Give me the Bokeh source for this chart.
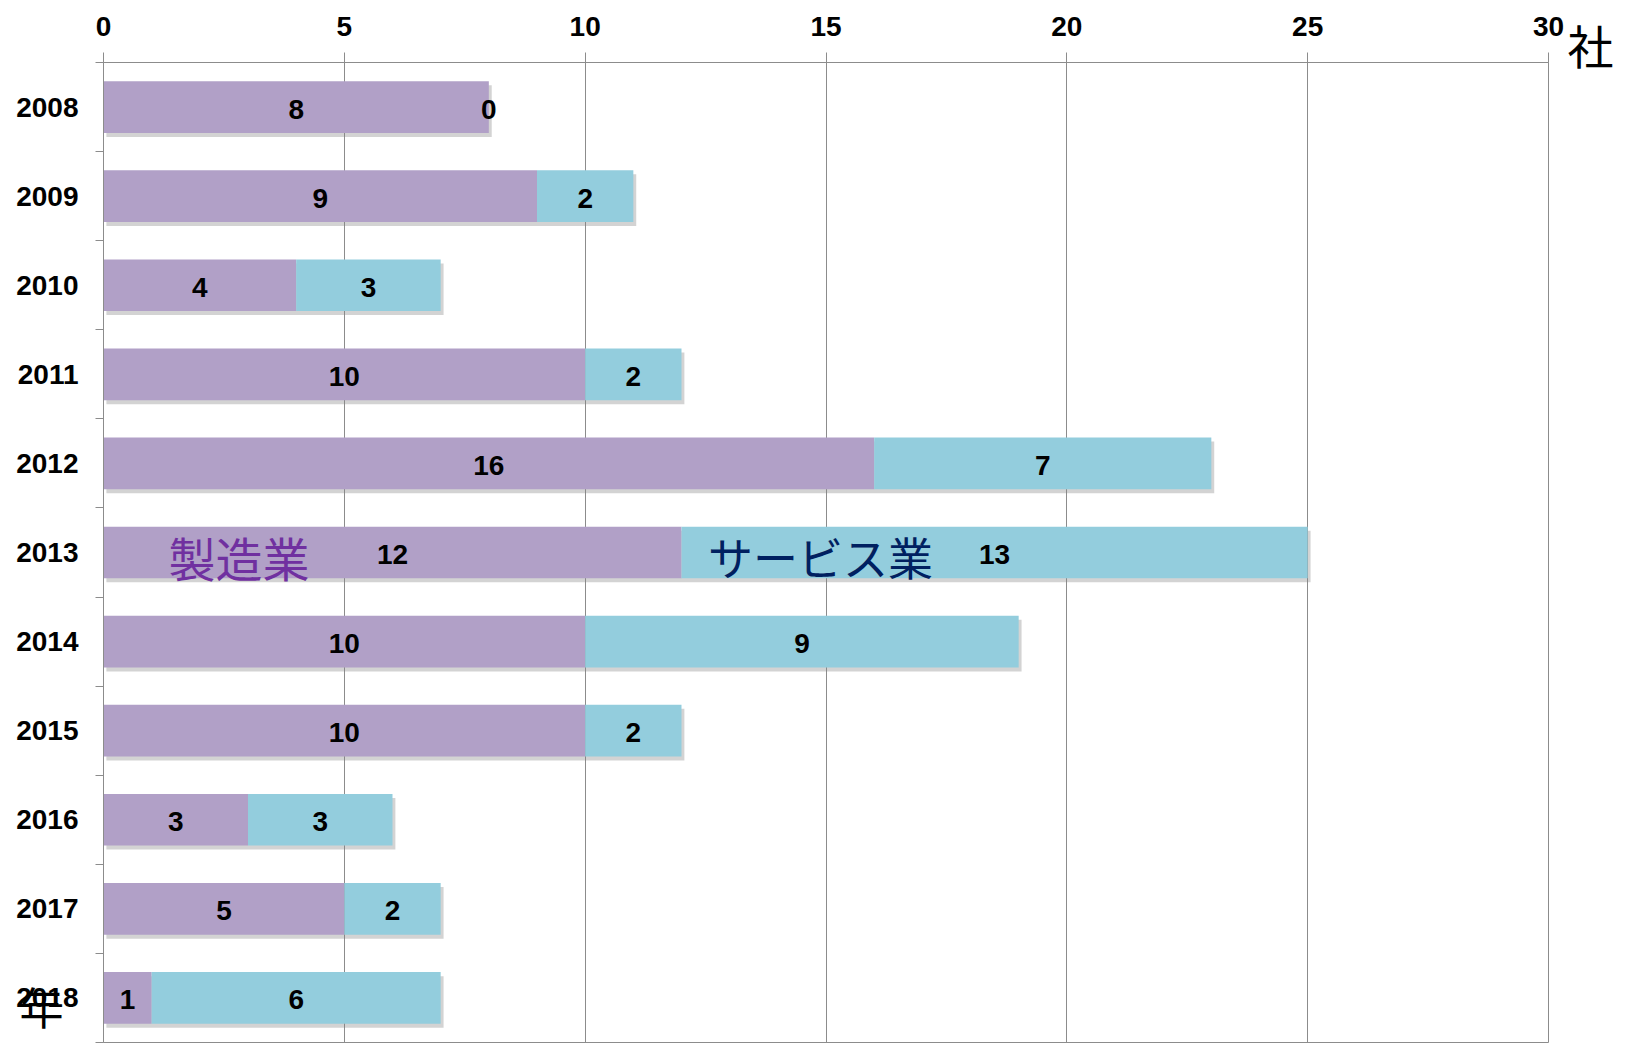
from bokeh.plotting import figure
from bokeh.models import ColumnDataSource, Range1d, FixedTicker, Label, LinearAxis
from bokeh.transform import dodge
from bokeh.core.properties import value
from bokeh.embed import file_html
from bokeh.resources import INLINE

years = ["2008", "2009", "2010", "2011", "2012", "2013", "2014", "2015", "2016", "2017", "2018"]
manufacturing = [8, 9, 4, 10, 16, 12, 10, 10, 3, 5, 1]
service = [0, 2, 3, 2, 7, 13, 9, 2, 3, 2, 6]
x_ticks = [0, 5, 10, 15, 20, 25, 30]
series_names = ["製造業", "サービス業"]
x_unit = "社"
y_unit = "年"

PURPLE = "#B1A0C7"
BLUE = "#93CDDD"
GRAY = "#8C8C8C"
FONT_NAME = "Liberation Sans"
CJK_NAME = "Noto Sans CJK JP"
FONT = value(FONT_NAME)

idx = list(range(len(years)))
total = [m + s for m, s in zip(manufacturing, service)]
src = ColumnDataSource(dict(
    y=idx,
    m=manufacturing,
    s=service,
    total=total,
    m_mid=[m / 2 for m in manufacturing],
    s_mid=[m + s / 2 for m, s in zip(manufacturing, service)],
    m_txt=[str(m) for m in manufacturing],
    s_txt=[str(s) for s in service],
))

W, H = 1620, 1050
p = figure(width=W, height=H, output_backend="svg", toolbar_location=None,
           x_range=Range1d(0, 30), y_range=Range1d(len(years) - 0.5, -0.5),
           x_axis_location="above",
           min_border_left=103, min_border_right=72, min_border_top=62, min_border_bottom=8,
           outline_line_color=GRAY, outline_line_width=1)

# grid
p.ygrid.visible = False
p.xgrid.ticker = FixedTicker(ticks=x_ticks)
p.xgrid.grid_line_color = GRAY
p.xgrid.grid_line_width = 1

# top axis
p.xaxis.ticker = FixedTicker(ticks=x_ticks)
p.xaxis.axis_line_color = GRAY
p.xaxis.major_tick_line_color = GRAY
p.xaxis.major_tick_out = 10
p.xaxis.major_tick_in = 0
p.xaxis.minor_tick_line_color = None
p.xaxis.minor_tick_out = 0
p.xaxis.major_label_standoff = 17
p.xaxis.major_label_text_font = FONT_NAME
p.xaxis.major_label_text_font_size = "28px"
p.xaxis.major_label_text_font_style = "bold"
p.xaxis.major_label_text_color = "black"

# left axis
p.yaxis.ticker = FixedTicker(ticks=idx, minor_ticks=[i - 0.5 for i in range(len(years) + 1)])
p.yaxis.major_label_overrides = {i: yr for i, yr in enumerate(years)}
p.yaxis.axis_line_color = GRAY
p.yaxis.major_tick_line_color = None
p.yaxis.major_tick_out = 0
p.yaxis.major_tick_in = 0
p.yaxis.minor_tick_line_color = GRAY
p.yaxis.minor_tick_out = 8
p.yaxis.minor_tick_in = 0
p.yaxis.major_label_standoff = 17
p.yaxis.major_label_text_font = FONT_NAME
p.yaxis.major_label_text_font_size = "28px"
p.yaxis.major_label_text_font_style = "bold"
p.yaxis.major_label_text_color = "black"


def unit_axis(pos, text, standoff, font, size):
    return LinearAxis(ticker=FixedTicker(ticks=[pos]),
                      major_label_overrides={pos: text},
                      axis_line_color=None, major_tick_line_color=None,
                      minor_tick_line_color=None,
                      major_tick_out=0, major_tick_in=0, minor_tick_out=0, minor_tick_in=0,
                      major_label_standoff=standoff,
                      major_label_orientation="horizontal",
                      major_label_text_font=font, major_label_text_font_size=size,
                      major_label_text_color="black")


# "年" unit label: tick label of an extra invisible left axis, at the bottom edge
p.add_layout(unit_axis(len(years) - 0.501, y_unit, -50,
                       FONT_NAME + ", " + CJK_NAME, "44px"), "left")
# "社" unit label: tick label of an extra invisible right axis, at the top edge
p.add_layout(unit_axis(-0.499, x_unit + "\n", 19, CJK_NAME, "46px"), "right")

# shadow
p.hbar(y=dodge("y", 0.045), left=0.06, right=dodge("total", 0.06), height=0.58,
       fill_color="#808080", fill_alpha=0.35, line_color=None, source=src)
# bars
p.hbar(y="y", left=0, right="m", height=0.58, fill_color=PURPLE, line_color=None, source=src)
p.hbar(y="y", left="m", right="total", height=0.58, fill_color=BLUE, line_color=None, source=src)

# value labels
p.text(x="m_mid", y="y", text="m_txt", text_align="center", text_baseline="middle",
       y_offset=2, text_font=FONT, text_font_size="28px", text_font_style="bold",
       text_color="black", source=src)
p.text(x="s_mid", y="y", text="s_txt", text_align="center", text_baseline="middle",
       y_offset=2, text_font=FONT, text_font_size="28px", text_font_style="bold",
       text_color="black", source=src)

# series names
p.add_layout(Label(x=1.35, y=5.05, text=series_names[0], text_align="left", text_baseline="middle",
                   text_font=CJK_NAME, text_font_size="47px", text_color="#7030A0"))
p.add_layout(Label(x=12.55, y=5.05, text=series_names[1], text_align="left", text_baseline="middle",
                   text_font=CJK_NAME, text_font_size="45px", text_color="#002060"))

open("out.html", "w").write(file_html(p, INLINE))
